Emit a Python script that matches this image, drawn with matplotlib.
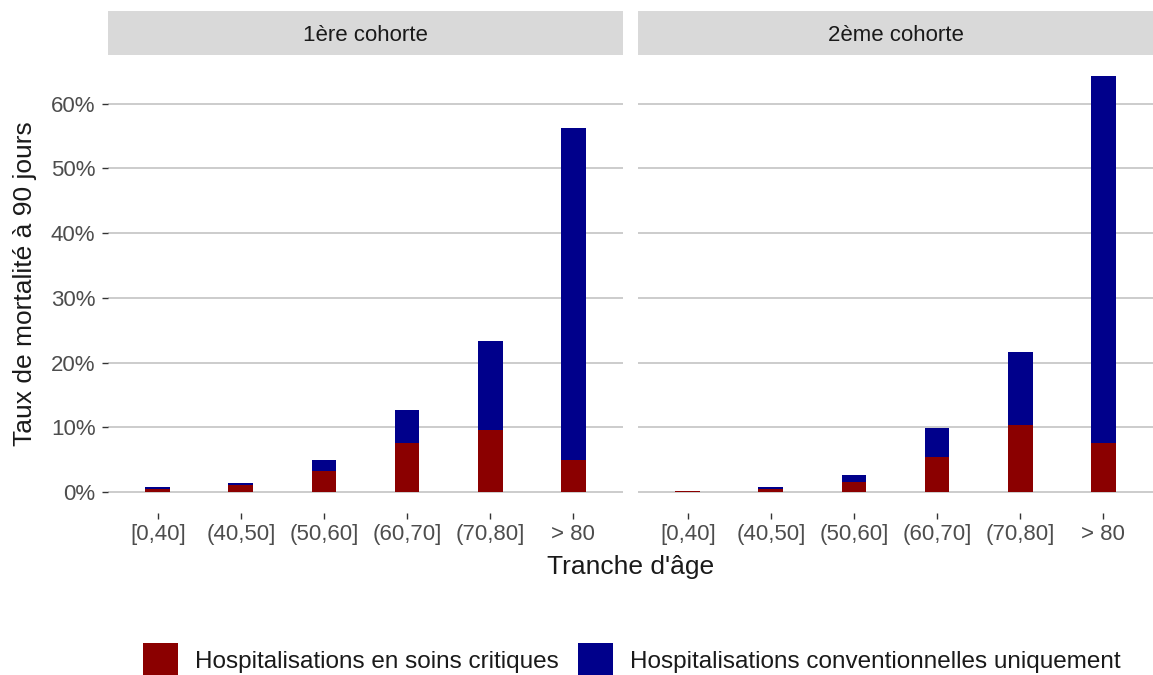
import matplotlib
matplotlib.use("Agg")
import matplotlib.pyplot as plt
from matplotlib.patches import Patch
from matplotlib.ticker import FuncFormatter
import numpy as np

plt.rcParams['font.family'] = ['Liberation Sans', 'DejaVu Sans']

categories = ["[0,40]", "(40,50]", "(50,60]", "(60,70]", "(70,80]", "> 80"]
cohorts = ["1ère cohorte", "2ème cohorte"]

# mortality rate (%) split by hospitalisation type
critiques_c1 = [0.5, 1.1, 3.3, 7.6, 9.6, 5.0]
conventionnelles_c1 = [0.3, 0.25, 1.7, 5.1, 13.7, 51.3]
critiques_c2 = [0.2, 0.55, 1.6, 5.5, 10.4, 7.6]
conventionnelles_c2 = [0.0, 0.25, 1.1, 4.35, 11.3, 56.7]

series_labels = ["Hospitalisations en soins critiques",
                 "Hospitalisations conventionnelles uniquement"]
colors = ["#8B0000", "#00008B"]
yticks = [0, 10, 20, 30, 40, 50, 60]

W, H = 1153, 675
fig = plt.figure(figsize=(W / 100, H / 100), dpi=100)

def fx(px):
    return px / W

def fy(py):
    return 1 - py / H

panel_top, panel_bot = 55, 513
panels = [(108, 623), (638, 1153)]
data = [(critiques_c1, conventionnelles_c1), (critiques_c2, conventionnelles_c2)]

ymax = max(max(np.array(a) + np.array(b)) for a, b in data)
pad = 0.05 * ymax

x = np.arange(len(categories))
for i, ((l, r), (red, blue)) in enumerate(zip(panels, data)):
    ax = fig.add_axes([fx(l), fy(panel_bot), fx(r - l), (panel_bot - panel_top) / H])
    ax.bar(x, red, width=0.3, color=colors[0], zorder=3, label=series_labels[0])
    ax.bar(x, blue, width=0.3, bottom=red, color=colors[1], zorder=3, label=series_labels[1])
    ax.set_xlim(-0.6, len(categories) - 0.4)
    ax.set_ylim(-pad, ymax + pad)
    ax.set_yticks(yticks)
    ax.yaxis.set_major_formatter(FuncFormatter(lambda v, p: f"{v:.0f}%"))
    ax.grid(axis='y', color='#BFBFBF', linewidth=1.1, zorder=0)
    ax.grid(axis='x', visible=False)
    for s in ax.spines.values():
        s.set_visible(False)
    ax.set_xticks(x)
    ax.set_xticklabels(categories, fontsize=16, color='#4D4D4D')
    ax.tick_params(axis='x', length=4, width=1.0, color='#333333', pad=4)
    if i == 0:
        ax.tick_params(axis='y', length=4, width=1.0, color='#333333', pad=5,
                       labelsize=16, labelcolor='#4D4D4D')
        ax.set_ylabel("Taux de mortalité à 90 jours", fontsize=19, color='#1A1A1A', labelpad=10)
    else:
        ax.tick_params(axis='y', length=0, labelleft=False)
    # facet strip
    sax = fig.add_axes([fx(l), fy(panel_top), fx(r - l), (panel_top - 11) / H])
    sax.set_facecolor('#D9D9D9')
    sax.set_xticks([]); sax.set_yticks([])
    for s in sax.spines.values():
        s.set_visible(False)
    sax.text(0.5, 0.45, cohorts[i], ha='center', va='center', fontsize=16,
             color='#1A1A1A', transform=sax.transAxes)

fig.text(fx(631), fy(567), "Tranche d'âge", ha='center', va='center',
         fontsize=19, color='#1A1A1A')

handles = [Patch(facecolor=c, edgecolor='none') for c in colors]
fig.legend(handles, series_labels, loc='center', ncol=2,
           bbox_to_anchor=(fx(632), fy(660)), frameon=False, fontsize=17.5,
           handlelength=1.43, handleheight=1.83, handletextpad=0.7,
           columnspacing=0.8, borderpad=0, labelcolor='#1A1A1A')

fig.savefig("out.png", dpi=100)
